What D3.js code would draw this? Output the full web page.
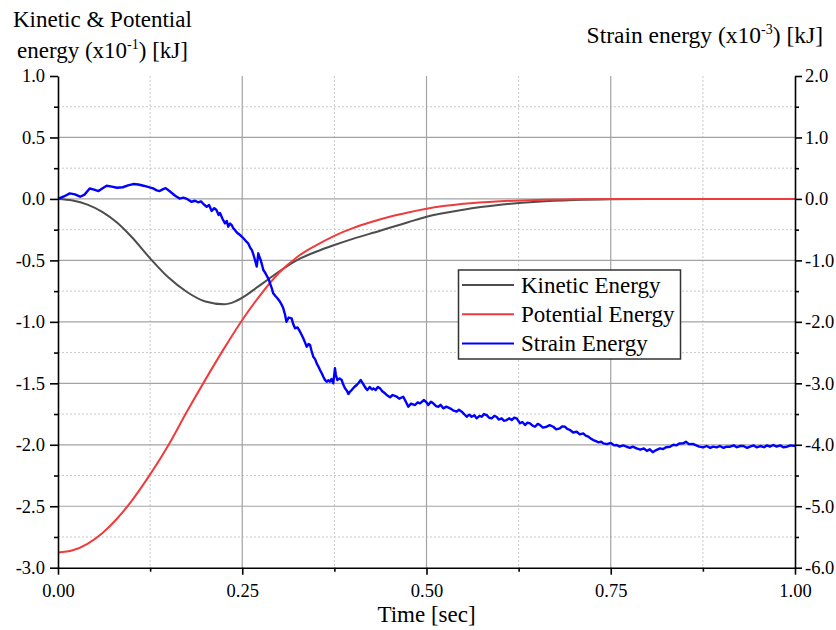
<!DOCTYPE html>
<html>
<head>
<meta charset="utf-8">
<script src="https://cdn.jsdelivr.net/npm/d3@7"></script>
<style>
  html, body { margin: 0; padding: 0; background: #fff; }
  svg { display: block; font-family: "Liberation Serif", "Times New Roman", serif; }
</style>
</head>
<body>
<svg id="chart" width="836" height="630"></svg>
<script>
// Time axis ticks [sec]
const timeMajorTicks = [0, 0.25, 0.5, 0.75, 1.0];
const timeMinorTicks = [0.125, 0.375, 0.625, 0.875];
// Left axis: kinetic & potential energy (x10^-1 kJ)
const leftMajorTicks = [1.0, 0.5, 0.0, -0.5, -1.0, -1.5, -2.0, -2.5, -3.0];
const leftMinorTicks = [0.75, 0.25, -0.25, -0.75, -1.25, -1.75, -2.25, -2.75];
// Right axis: strain energy (x10^-3 kJ)
const rightMajorTicks = [2.0, 1.0, 0.0, -1.0, -2.0, -3.0, -4.0, -5.0, -6.0];
const rightMinorTicks = [1.5, 0.5, -0.5, -1.5, -2.5, -3.5, -4.5, -5.5];

const seriesNames = ["Kinetic Energy", "Potential Energy", "Strain Energy"];
const seriesColors = ["#4d4d4d", "#ef3b3b", "#0000ff"];

// Kinetic energy [t, E]
const kineticEnergy = [
  [0.000, 0], [0.020, -0.012], [0.040, -0.046], [0.060, -0.105], [0.080, -0.192],
  [0.100, -0.31], [0.125, -0.483], [0.150, -0.64], [0.175, -0.757], [0.200, -0.835],
  [0.225, -0.857], [0.240, -0.835], [0.255, -0.785], [0.270, -0.72], [0.285, -0.655],
  [0.300, -0.59], [0.325, -0.495], [0.350, -0.43], [0.375, -0.375], [0.400, -0.325],
  [0.437, -0.259], [0.450, -0.235], [0.475, -0.19], [0.500, -0.145], [0.550, -0.088],
  [0.600, -0.048], [0.650, -0.022], [0.700, -0.008], [0.750, -0.002], [0.800, 0],
  [0.900, 0], [1.000, 0]
];

// Potential energy [t, E]
const potentialEnergy = [
  [0.000, -2.876], [0.020, -2.858], [0.040, -2.806], [0.060, -2.72], [0.080, -2.602],
  [0.100, -2.456], [0.125, -2.241], [0.150, -2.001], [0.175, -1.73], [0.200, -1.47],
  [0.225, -1.22], [0.250, -0.985], [0.275, -0.778], [0.300, -0.601], [0.325, -0.47],
  [0.350, -0.378], [0.375, -0.30], [0.400, -0.238], [0.425, -0.188], [0.450, -0.145],
  [0.475, -0.11], [0.500, -0.08], [0.550, -0.04], [0.600, -0.019], [0.650, -0.008],
  [0.700, -0.003], [0.750, -0.001], [0.800, 0], [1.000, 0]
];

// Strain energy [t, E]
const strainEnergy = [
  [0.000, 0], [0.008, 0.04], [0.016, 0.09], [0.023, 0.075], [0.030, 0.036], [0.036, 0.07],
  [0.043, 0.17], [0.049, 0.15], [0.055, 0.128], [0.060, 0.17], [0.066, 0.215], [0.073, 0.2],
  [0.080, 0.182], [0.088, 0.19], [0.095, 0.22], [0.102, 0.242], [0.109, 0.235], [0.116, 0.215],
  [0.122, 0.195], [0.129, 0.172], [0.134, 0.14], [0.138, 0.128], [0.142, 0.155], [0.146, 0.175],
  [0.152, 0.12], [0.159, 0.052], [0.165, 0.005], [0.170, 0.02], [0.175, 0.0], [0.181, -0.046],
  [0.186, -0.03], [0.190, -0.055], [0.194, -0.04], [0.198, -0.09], [0.2018, -0.127], [0.205, -0.10],
  [0.2085, -0.196], [0.212, -0.15], [0.215, -0.18], [0.218, -0.26], [0.2198, -0.23], [0.2235, -0.33],
  [0.2266, -0.397], [0.229, -0.36], [0.231, -0.452], [0.2335, -0.40], [0.2357, -0.425], [0.238, -0.48],
  [0.240, -0.506], [0.243, -0.55], [0.247, -0.587], [0.250, -0.62], [0.2537, -0.669], [0.256, -0.70],
  [0.258, -0.722], [0.261, -0.80], [0.263, -0.83], [0.2655, -0.92], [0.2673, -0.994], [0.2696, -1.10],
  [0.2705, -1.02], [0.2718, -0.885], [0.2735, -0.95], [0.275, -0.994], [0.277, -1.08], [0.2786, -1.157],
  [0.281, -1.20], [0.284, -1.266], [0.286, -1.31], [0.2877, -1.373], [0.290, -1.45], [0.292, -1.536],
  [0.295, -1.58], [0.298, -1.62], [0.3012, -1.673], [0.303, -1.71], [0.3057, -1.78], [0.308, -1.88],
  [0.310, -1.998], [0.313, -1.93], [0.317, -1.943], [0.319, -2.03], [0.3216, -2.105], [0.325, -2.09],
  [0.3284, -2.16], [0.3305, -2.21], [0.3328, -2.268], [0.335, -2.33], [0.3375, -2.405], [0.340, -2.36],
  [0.342, -2.377], [0.344, -2.47], [0.3464, -2.568], [0.349, -2.61], [0.351, -2.675], [0.353, -2.72],
  [0.3555, -2.784], [0.358, -2.84], [0.360, -2.893], [0.362, -2.94], [0.3646, -2.974], [0.367, -2.95],
  [0.369, -2.974], [0.371, -2.93], [0.3735, -3.0], [0.3758, -2.756], [0.377, -2.86], [0.379, -2.947],
  [0.382, -2.92], [0.385, -2.947], [0.387, -3.02], [0.3894, -3.082], [0.392, -3.12], [0.394, -3.174],
  [0.396, -3.14], [0.3985, -3.109], [0.402, -3.06], [0.4053, -3.028], [0.408, -2.99], [0.4107, -2.947],
  [0.413, -2.99], [0.415, -3.028], [0.417, -3.07], [0.4197, -3.109], [0.423, -3.06], [0.426, -3.10],
  [0.428, -3.082], [0.431, -3.11], [0.434, -3.06], [0.437, -3.082], [0.440, -3.13], [0.4437, -3.163],
  [0.447, -3.20], [0.4505, -3.228], [0.454, -3.19], [0.4596, -3.218], [0.463, -3.25], [0.4685, -3.218],
  [0.472, -3.30], [0.4753, -3.381], [0.479, -3.33], [0.4844, -3.353], [0.488, -3.31], [0.4912, -3.326],
  [0.4966, -3.272], [0.500, -3.31], [0.5024, -3.353], [0.506, -3.30], [0.5092, -3.326], [0.513, -3.37],
  [0.516, -3.381], [0.519, -3.35], [0.5228, -3.407], [0.527, -3.38], [0.5319, -3.407], [0.536, -3.44],
  [0.541, -3.462], [0.544, -3.43], [0.5478, -3.462], [0.551, -3.50], [0.5545, -3.544], [0.558, -3.51],
  [0.5613, -3.544], [0.565, -3.52], [0.568, -3.57], [0.572, -3.53], [0.575, -3.544], [0.578, -3.50],
  [0.5817, -3.517], [0.585, -3.56], [0.5885, -3.57], [0.592, -3.53], [0.595, -3.544], [0.598, -3.59],
  [0.602, -3.57], [0.605, -3.61], [0.6088, -3.598], [0.612, -3.57], [0.6156, -3.598], [0.619, -3.56],
  [0.6224, -3.57], [0.6269, -3.651], [0.630, -3.63], [0.6337, -3.679], [0.637, -3.64], [0.6404, -3.651],
  [0.644, -3.69], [0.6472, -3.707], [0.651, -3.66], [0.654, -3.679], [0.658, -3.72], [0.663, -3.707],
  [0.667, -3.68], [0.672, -3.707], [0.676, -3.75], [0.681, -3.733], [0.684, -3.70], [0.688, -3.707],
  [0.691, -3.74], [0.6947, -3.76], [0.699, -3.80], [0.7038, -3.788], [0.708, -3.83], [0.7127, -3.814],
  [0.716, -3.85], [0.7196, -3.869], [0.723, -3.90], [0.7263, -3.923], [0.730, -3.94], [0.733, -3.96],
  [0.737, -3.95], [0.740, -3.977], [0.745, -3.99], [0.750, -3.97], [0.755, -4.01], [0.758, -4.004],
  [0.762, -4.03], [0.767, -4.01], [0.7716, -4.032], [0.776, -4.05], [0.780, -4.03], [0.785, -4.058],
  [0.790, -4.08], [0.795, -4.06], [0.799, -4.10], [0.803, -4.074], [0.807, -4.12], [0.811, -4.09],
  [0.8168, -4.058], [0.821, -4.07], [0.825, -4.04], [0.8304, -4.032], [0.835, -4.00], [0.839, -4.01],
  [0.843, -3.98], [0.8484, -3.977], [0.852, -3.95], [0.856, -3.99], [0.862, -3.988], [0.866, -4.01],
  [0.870, -4.03], [0.8756, -4.042], [0.880, -4.02], [0.885, -4.05], [0.889, -4.03], [0.8938, -4.042],
  [0.898, -4.02], [0.903, -4.05], [0.907, -4.03], [0.912, -4.032], [0.917, -4.01], [0.921, -4.04],
  [0.926, -4.02], [0.930, -4.02], [0.935, -4.05], [0.939, -4.03], [0.944, -4.01], [0.948, -4.042],
  [0.953, -4.02], [0.958, -4.04], [0.962, -4.01], [0.966, -4.03], [0.9706, -4.004], [0.975, -4.03],
  [0.980, -4.01], [0.984, -4.04], [0.989, -4.032], [0.994, -4.01], [1.000, -4.02]
];

const svg = d3.select("#chart");
const plot = { left: 58, right: 795, top: 76, bottom: 567.7 };
const serif = '"Liberation Serif", "Times New Roman", serif';

const x = d3.scaleLinear().domain([0, 1]).range([plot.left, plot.right]);
const yLeft = d3.scaleLinear().domain([-3, 1]).range([plot.bottom, plot.top]);
const yRight = d3.scaleLinear().domain([-6, 2]).range([plot.bottom, plot.top]);

// Grid: dotted minor lines, solid major lines
const grid = svg.append("g");
grid.selectAll(".vminor").data(timeMinorTicks).enter().append("line")
  .attr("x1", d => x(d)).attr("x2", d => x(d))
  .attr("y1", plot.top).attr("y2", plot.bottom)
  .attr("stroke", "#c8c8c8").attr("stroke-width", 1).attr("stroke-dasharray", "2,2");
grid.selectAll(".hminor").data(leftMinorTicks).enter().append("line")
  .attr("x1", plot.left).attr("x2", plot.right)
  .attr("y1", d => yLeft(d)).attr("y2", d => yLeft(d))
  .attr("stroke", "#c8c8c8").attr("stroke-width", 1).attr("stroke-dasharray", "2,2");
grid.selectAll(".vmajor").data(timeMajorTicks.filter(d => d > 0 && d < 1)).enter().append("line")
  .attr("x1", d => x(d)).attr("x2", d => x(d))
  .attr("y1", plot.top).attr("y2", plot.bottom)
  .attr("stroke", "#a3a3a3").attr("stroke-width", 1.2);
grid.selectAll(".hmajor").data(leftMajorTicks.filter(d => d > -3 && d < 1)).enter().append("line")
  .attr("x1", plot.left).attr("x2", plot.right)
  .attr("y1", d => yLeft(d)).attr("y2", d => yLeft(d))
  .attr("stroke", "#a3a3a3").attr("stroke-width", 1.2);

// Curves
const smooth = d3.line().x(d => x(d[0])).y(d => yLeft(d[1])).curve(d3.curveMonotoneX);
const rough = d3.line().x(d => x(d[0])).y(d => yRight(d[1]));

svg.append("path").datum(kineticEnergy).attr("d", smooth)
  .attr("fill", "none").attr("stroke", seriesColors[0]).attr("stroke-width", 2);
svg.append("path").datum(potentialEnergy).attr("d", smooth)
  .attr("fill", "none").attr("stroke", seriesColors[1]).attr("stroke-width", 2);
svg.append("path").datum(strainEnergy).attr("d", rough)
  .attr("fill", "none").attr("stroke", seriesColors[2]).attr("stroke-width", 2.4)
  .attr("stroke-linejoin", "round");

// Axes (plain hyphen for negative numbers)
function styleAxis(g) {
  g.selectAll("path.domain").attr("stroke", "#000").attr("stroke-width", 1.6);
  g.selectAll(".tick line").attr("stroke", "#000").attr("stroke-width", 1.6);
  g.selectAll("text").attr("fill", "#000").style("font-size", "18.5px").style("font-family", serif);
}

const fmt1 = d => d3.format(".1f")(d).replace("\u2212", "-");
const fmt2 = d => d3.format(".2f")(d).replace("\u2212", "-");

const xAxis = svg.append("g").attr("transform", `translate(0,${plot.bottom})`)
  .call(d3.axisBottom(x).tickValues(timeMajorTicks).tickFormat(fmt2).tickSize(7).tickSizeOuter(0).tickPadding(9));
styleAxis(xAxis);
const xMinor = svg.append("g").attr("transform", `translate(0,${plot.bottom})`)
  .call(d3.axisBottom(x).tickValues(timeMinorTicks).tickFormat("").tickSize(4).tickSizeOuter(0));
xMinor.select("path.domain").remove();
styleAxis(xMinor);

const yAxisL = svg.append("g").attr("transform", `translate(${plot.left},0)`)
  .call(d3.axisLeft(yLeft).tickValues(leftMajorTicks).tickFormat(fmt1).tickSize(8).tickSizeOuter(0).tickPadding(5));
styleAxis(yAxisL);
const yMinorL = svg.append("g").attr("transform", `translate(${plot.left},0)`)
  .call(d3.axisLeft(yLeft).tickValues(leftMinorTicks).tickFormat("").tickSize(4).tickSizeOuter(0));
yMinorL.select("path.domain").remove();
styleAxis(yMinorL);

const yAxisR = svg.append("g").attr("transform", `translate(${plot.right},0)`)
  .call(d3.axisRight(yRight).tickValues(rightMajorTicks).tickFormat(fmt1).tickSize(7).tickSizeOuter(0).tickPadding(3));
styleAxis(yAxisR);
const yMinorR = svg.append("g").attr("transform", `translate(${plot.right},0)`)
  .call(d3.axisRight(yRight).tickValues(rightMinorTicks).tickFormat("").tickSize(4).tickSizeOuter(0));
yMinorR.select("path.domain").remove();
styleAxis(yMinorR);

// Axis titles
svg.append("text").attr("x", 13).attr("y", 26.5)
  .style("font-family", serif).style("font-size", "23px").text("Kinetic & Potential");
const lt = svg.append("text").attr("x", 17).attr("y", 57.5)
  .style("font-family", serif).style("font-size", "23px");
lt.append("tspan").text("energy (x10");
lt.append("tspan").attr("dy", -9).style("font-size", "14px").text("-1");
lt.append("tspan").attr("dy", 9).text(") [kJ]");

const rt = svg.append("text").attr("x", 823).attr("y", 42.5).attr("text-anchor", "end")
  .style("font-family", serif).style("font-size", "23.5px");
rt.append("tspan").text("Strain energy (x10");
rt.append("tspan").attr("dy", -9).style("font-size", "14px").text("-3");
rt.append("tspan").attr("dy", 9).text(") [kJ]");

svg.append("text").attr("x", (plot.left + plot.right) / 2).attr("y", 621.5).attr("text-anchor", "middle")
  .style("font-family", serif).style("font-size", "23px").text("Time [sec]");

// Legend
const legend = svg.append("g").attr("transform", "translate(458.5,270)");
legend.append("rect").attr("width", 222).attr("height", 89)
  .attr("fill", "#fff").attr("stroke", "#333").attr("stroke-width", 1.5);
seriesNames.forEach((name, i) => {
  const cy = 15 + i * 29.2;
  legend.append("line").attr("x1", 3.5).attr("x2", 55.5).attr("y1", cy).attr("y2", cy)
    .attr("stroke", seriesColors[i]).attr("stroke-width", 2);
  legend.append("text").attr("x", 62.5).attr("y", cy).attr("dy", "0.34em")
    .style("font-family", serif).style("font-size", "23px").text(name);
});
</script>
</body>
</html>
